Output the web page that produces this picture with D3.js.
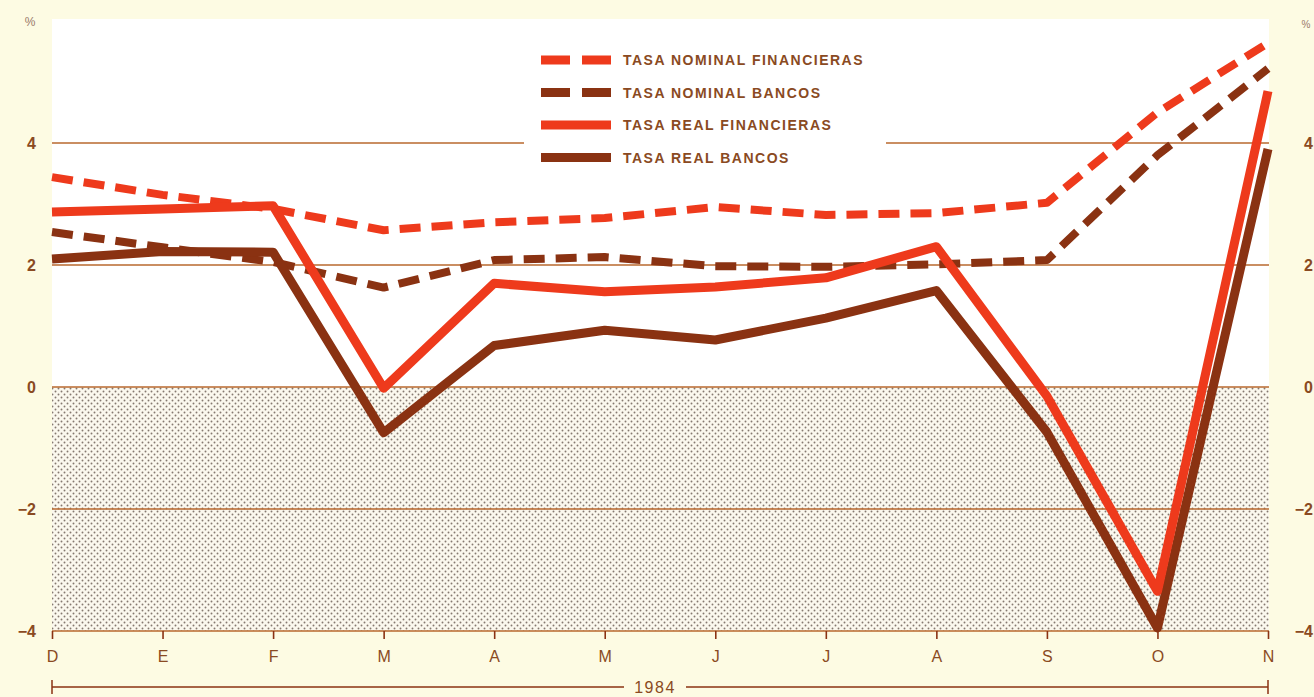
<!DOCTYPE html>
<html>
<head>
<meta charset="utf-8">
<script src="https://cdn.jsdelivr.net/npm/d3@7"></script>
<style>
  body { margin: 0; background: #fdfbe3; }
  svg { display: block; font-family: "Liberation Sans", Arial, sans-serif; }
</style>
</head>
<body>
<div id="chart"></div>
<script>
// months Dec 1983 .. Nov 1984
const months = ["D", "E", "F", "M", "A", "M", "J", "J", "A", "S", "O", "N"];
const yTicks = [4, 2, 0, -2, -4];

const nominalFinancieras = [3.44, 3.15, 2.92, 2.57, 2.70, 2.77, 2.95, 2.82, 2.85, 3.02, 4.50, 5.64];
const nominalBancos      = [2.54, 2.29, 2.05, 1.63, 2.08, 2.13, 1.98, 1.97, 2.01, 2.08, 3.80, 5.22];
const realFinancieras    = [2.87, 2.92, 2.97, -0.02, 1.70, 1.56, 1.64, 1.79, 2.30, -0.15, -3.35, 4.85];
const realBancos         = [2.10, 2.22, 2.21, -0.75, 0.68, 0.93, 0.77, 1.13, 1.58, -0.74, -3.95, 3.90];

const seriesNames = ["TASA NOMINAL FINANCIERAS", "TASA NOMINAL BANCOS", "TASA REAL FINANCIERAS", "TASA REAL BANCOS"];

const RED = "#ee3a1c", BROWN = "#8a3212", GRID = "#b8682e", TXT = "#8a4a22";

const series = [
  { name: seriesNames[0], values: nominalFinancieras, color: RED,   dash: "21,11" },
  { name: seriesNames[1], values: nominalBancos,      color: BROWN, dash: "21,11" },
  { name: seriesNames[2], values: realFinancieras,    color: RED,   dash: null },
  { name: seriesNames[3], values: realBancos,         color: BROWN, dash: null }
];

const W = 1314, H = 697;
const plotL = 52, plotR = 1269, plotT = 19;

const x = d3.scaleLinear().domain([0, months.length - 1]).range([plotL, 1268]);
const y = d3.scaleLinear().domain([-4, 6]).range([631, 21]);

const svg = d3.select("#chart").append("svg")
  .attr("width", W).attr("height", H);

// dotted texture for negative area
const defs = svg.append("defs");
const pat = defs.append("pattern")
  .attr("id", "dots").attr("patternUnits", "userSpaceOnUse")
  .attr("width", 6).attr("height", 6);
pat.append("rect").attr("width", 6).attr("height", 6).attr("fill", "#fbf8ee");
pat.append("circle").attr("cx", 1.5).attr("cy", 1.5).attr("r", 0.95).attr("fill", "#857870");
pat.append("circle").attr("cx", 4.5).attr("cy", 4.5).attr("r", 0.95).attr("fill", "#857870");

// plot background
svg.append("rect")
  .attr("x", plotL).attr("y", plotT)
  .attr("width", plotR - plotL).attr("height", y(0) - plotT)
  .attr("fill", "#ffffff");
svg.append("rect")
  .attr("x", plotL).attr("y", y(0))
  .attr("width", plotR - plotL).attr("height", y(-4) - y(0))
  .attr("fill", "url(#dots)");

// gridlines
svg.append("g")
  .selectAll("line")
  .data(yTicks)
  .join("line")
    .attr("x1", plotL).attr("x2", plotR)
    .attr("y1", d => y(d)).attr("y2", d => y(d))
    .attr("stroke", GRID).attr("stroke-width", 1.6);

// y labels left and right
const yLab = svg.append("g")
  .attr("fill", TXT).attr("font-size", 16).attr("font-weight", "bold");
yLab.selectAll("text.l")
  .data(yTicks)
  .join("text")
    .attr("class", "l")
    .attr("x", 36).attr("y", d => y(d) + 6)
    .attr("text-anchor", "end")
    .text(d => d < 0 ? "\u2212" + Math.abs(d) : d);
yLab.selectAll("text.r")
  .data(yTicks)
  .join("text")
    .attr("class", "r")
    .attr("x", 1313).attr("y", d => y(d) + 6)
    .attr("text-anchor", "end")
    .text(d => d < 0 ? "\u2212" + Math.abs(d) : d);

svg.append("text").attr("x", 30).attr("y", 26)
  .attr("text-anchor", "middle").attr("font-size", 12).attr("fill", "#9a7a6a").text("%");
svg.append("text").attr("x", 1306).attr("y", 28)
  .attr("text-anchor", "middle").attr("font-size", 10).attr("fill", "#9a7a6a").text("%");

// x axis
const xAxis = svg.append("g")
  .attr("transform", `translate(0,${y(-4)})`)
  .call(d3.axisBottom(x)
    .tickValues(d3.range(months.length))
    .tickFormat(i => months[i])
    .tickSize(8).tickPadding(12).tickSizeOuter(0));
xAxis.select(".domain").remove();
xAxis.selectAll("line").attr("stroke", BROWN).attr("stroke-width", 1.6);
xAxis.selectAll("text")
  .attr("fill", TXT).attr("font-size", 16)
  .attr("font-family", "Liberation Sans, Arial, sans-serif");

// year bracket
const yb = 687;
const br = svg.append("g").attr("stroke", BROWN).attr("stroke-width", 1.5);
br.append("line").attr("x1", plotL).attr("x2", 1268).attr("y1", yb).attr("y2", yb);
br.append("line").attr("x1", plotL).attr("x2", plotL).attr("y1", yb - 7).attr("y2", yb + 7);
br.append("line").attr("x1", 1268).attr("x2", 1268).attr("y1", yb - 7).attr("y2", yb + 7);
svg.append("rect").attr("x", 624).attr("y", yb - 9).attr("width", 62).attr("height", 18).attr("fill", "#fdfbe3");
svg.append("text").attr("x", 655).attr("y", yb + 6)
  .attr("text-anchor", "middle").attr("font-size", 16).attr("fill", TXT)
  .attr("letter-spacing", 1.5).text("1984");

// lines
const line = d3.line()
  .x((d, i) => x(i))
  .y(d => y(d))
  .curve(d3.curveLinear);

const drawOrder = [series[0], series[1], series[3], series[2]];
svg.append("g")
  .selectAll("path")
  .data(drawOrder)
  .join("path")
    .attr("d", d => line(d.values))
    .attr("fill", "none")
    .attr("stroke", d => d.color)
    .attr("stroke-width", d => d.dash ? 8 : 9)
    .attr("stroke-linejoin", "round")
    .attr("stroke-dasharray", d => d.dash);

// legend
const lg = svg.append("g");
lg.append("rect").attr("x", 524).attr("y", 38).attr("width", 362).attr("height", 138).attr("fill", "#ffffff");
const lgItem = lg.selectAll("g.item")
  .data(series)
  .join("g")
    .attr("class", "item")
    .attr("transform", (d, i) => `translate(541,${60 + i * 32.5})`);
lgItem.append("line")
  .attr("x1", 0).attr("x2", 70).attr("y1", 0).attr("y2", 0)
  .attr("stroke", d => d.color).attr("stroke-width", 9)
  .attr("stroke-dasharray", d => d.dash ? "29,12" : null);
lgItem.append("text")
  .attr("x", 82).attr("y", 5)
  .attr("font-size", 14).attr("font-weight", "bold")
  .attr("letter-spacing", 1.5)
  .attr("fill", TXT)
  .text(d => d.name);
</script>
</body>
</html>
